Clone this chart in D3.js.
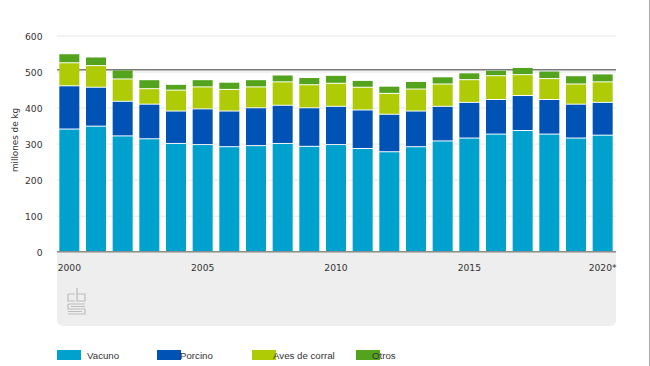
<!DOCTYPE html>
<html>
<head>
<meta charset="utf-8">
<script src="https://cdn.jsdelivr.net/npm/d3@7"></script>
<style>
    body { margin: 0; background: #fff; }
    svg { display: block; }
</style>
</head>
<body>
<div id="chart"></div>
<script>
const years = d3.range(2000, 2021).map(String);
const yTicks = [0, 100, 200, 300, 400, 500, 600];
const xLabels = ["2000", "2005", "2010", "2015", "2020"];

// stacked values
const vacuno = [339, 347, 320, 312, 299, 296, 290, 293, 299, 291, 296, 285, 276, 290, 306, 314, 325, 335, 325, 314, 322];
const porcino = [120, 108, 96, 96, 90, 99, 99, 105, 106, 107, 106, 107, 104, 99, 96, 99, 96, 97, 96, 94, 91];
const aves = [64, 60, 62, 43, 58, 61, 60, 58, 65, 64, 64, 63, 58, 61, 62, 63, 66, 58, 58, 56, 57];
const otros = [25, 24, 25, 25, 16, 20, 20, 20, 19, 20, 22, 19, 20, 21, 20, 19, 15, 20, 21, 23, 22];
const refLine = 505;

const names = ["Vacuno", "Porcino", "Aves de corral", "Otros"];
const colors = ["#00a1cd", "#0052b4", "#afcb05", "#53a31d"];
const legendX = [57, 157, 252, 356];
const legendTextX = [87, 180, 273, 372];

const width = 650;
const height = 366;

const svg = d3.select("#chart").append("svg").attr("width", width).attr("height", height);

const x = d3.scaleBand().domain(years).range([56, 616]).paddingInner(0.25).paddingOuter(0.125);
const y = d3.scaleLinear().domain([0, 600]).range([251.7, 35.5]);

// grey panel below the axis
svg.append("path")
    .attr("d", "M57,252H616V320a6,6 0 0 1 -6,6H63a6,6 0 0 1 -6,-6Z")
    .attr("fill", "#eeeeee");

// right edge of the page
svg.append("line")
    .attr("x1", 649.5).attr("x2", 649.5).attr("y1", 0).attr("y2", height)
    .attr("stroke", "#aaa").attr("stroke-width", 1);

// gridlines
const grid = svg.append("g").attr("transform", "translate(57,0)")
    .call(d3.axisLeft(y).tickValues(yTicks).tickFormat("").tickSize(-559));
grid.select(".domain").remove();
grid.selectAll("line").attr("stroke", "#e6e6e6");

const series = d3.stack().keys(d3.range(4))
    .value((i, k) => [vacuno, porcino, aves, otros][k][i])(d3.range(years.length));

// reference line runs behind the bars
svg.append("line")
    .attr("x1", 57).attr("x2", 616)
    .attr("y1", y(refLine)).attr("y2", y(refLine))
    .attr("stroke", "#7a7a7a").attr("stroke-width", 1.5);

// 1px light gap on top of each lower segment
svg.append("g").selectAll("g")
    .data(series)
    .join("g")
    .attr("fill", (d, k) => colors[k])
    .selectAll("rect")
    .data((d) => d)
    .join("rect")
    .attr("x", (d) => x(years[d.data]))
    .attr("width", x.bandwidth())
    .attr("y", (d) => y(d[1]))
    .attr("height", (d) => y(d[0]) - y(d[1]) - (d[0] > 0 ? 1 : 0));

// x axis
svg.append("line")
    .attr("x1", 57).attr("x2", 616).attr("y1", y(0)).attr("y2", y(0))
    .attr("stroke", "#8c8c8c").attr("stroke-width", 1.5);

const tickFont = "'DejaVu Sans', sans-serif";

svg.append("g").selectAll("text")
    .data(xLabels)
    .join("text")
    .attr("x", (d) => x(d) + x.bandwidth() / 2)
    .attr("y", 270.5)
    .attr("text-anchor", "middle")
    .attr("font-family", tickFont)
    .attr("font-size", 9.2)
    .attr("fill", "#333")
    .text((d) => (d == "2020" ? "2020*" : d));

// y axis labels
svg.append("g").selectAll("text")
    .data(yTicks)
    .join("text")
    .attr("x", 42.5)
    .attr("y", (d) => y(d) + 4.5)
    .attr("text-anchor", "end")
    .attr("font-family", tickFont)
    .attr("font-size", 9.2)
    .attr("fill", "#333")
    .text((d) => d);

svg.append("text")
    .attr("transform", "translate(17.5,140) rotate(-90)")
    .attr("text-anchor", "middle")
    .attr("font-family", tickFont)
    .attr("font-size", 8.8)
    .attr("fill", "#333")
    .text("millones de kg");

// cbs logo, drawn as outlined paths
const logo = svg.append("g")
    .attr("transform", "translate(68,288)")
    .attr("fill", "none")
    .attr("stroke", "#bcbcbc")
    .attr("stroke-width", 1.2);
logo.append("path").attr("d", "M0,6H7M0,6V13H7M9,0V13H17V6H9");
logo.append("path").attr("d", "M0,16H17M0,16V21H17V26H0M3,18.5H17M0,23.5H14");

// legend
const legend = svg.append("g");
legend.selectAll("rect")
    .data(names)
    .join("rect")
    .attr("x", (d, i) => legendX[i])
    .attr("y", 350)
    .attr("width", 24)
    .attr("height", 10)
    .attr("fill", (d, i) => colors[i]);
legend.selectAll("text")
    .data(names)
    .join("text")
    .attr("x", (d, i) => legendTextX[i])
    .attr("y", 359)
    .attr("font-family", "'Liberation Sans', sans-serif")
    .attr("font-size", 9.7)
    .attr("fill", "#333")
    .text((d) => d);
</script>
</body>
</html>
